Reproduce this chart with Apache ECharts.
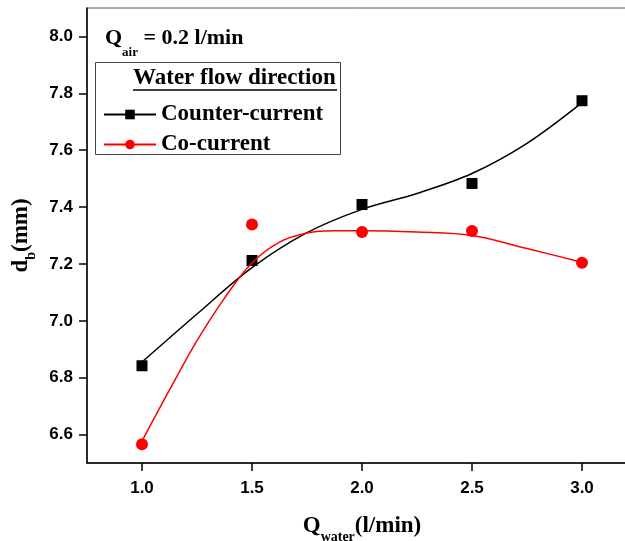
<!DOCTYPE html>
<html>
<head>
  <meta charset="utf-8">
  <title>Bubble diameter vs water flow</title>
  <script src="https://cdn.jsdelivr.net/npm/echarts@6/dist/echarts.min.js"></script>
  <style>
    html, body { margin: 0; padding: 0; background: #fff; }
  </style>
</head>
<body>
  <div id="main" style="width: 625px;height:541px;"></div>
  <script type="text/javascript">
    // measured points
    var qWater = [1.0, 1.5, 2.0, 2.5, 3.0];
    var counterCurrent = [6.842, 7.212, 7.409, 7.483, 7.774];
    var coCurrent = [6.566, 7.339, 7.312, 7.316, 7.204];

    // fitted curves
    var counterFitX = [1.0, 1.25, 1.5, 1.75, 2.0, 2.25, 2.5, 2.75, 3.0];
    var counterFitY = [6.855, 7.024, 7.187, 7.31, 7.392, 7.448, 7.518, 7.624, 7.767];
    var coFitX = [1.0, 1.125, 1.25, 1.375, 1.5, 1.625, 1.75, 1.875, 2.0, 2.25, 2.5, 2.75, 3.0];
    var coFitY = [6.577, 6.757, 6.93, 7.08, 7.204, 7.277, 7.309, 7.317, 7.317, 7.312, 7.30, 7.254, 7.206];

    var xTicks = [1.0, 1.5, 2.0, 2.5, 3.0];
    var yTicks = [6.6, 6.8, 7.0, 7.2, 7.4, 7.6, 7.8, 8.0];

    function pairs(xs, ys) {
      return xs.map(function (x, i) { return [x, ys[i]]; });
    }

    var serif = '"Liberation Serif", "Times New Roman", serif';
    var sans = '"Liberation Sans", Arial, sans-serif';

    var nameRich = {
      q: { fontFamily: serif, fontWeight: 'bold', fontSize: 23, color: '#000' },
      s: { fontFamily: serif, fontWeight: 'bold', fontSize: 14, color: '#000', verticalAlign: 'bottom', padding: [0, 0, -6, 0] }
    };

    var myChart = echarts.init(document.getElementById('main'));
    myChart.setOption({
      animation: false,
      grid: {
        left: 87, top: 8, right: -12, bottom: 78,
        outerBoundsMode: 'none',
        show: true, borderColor: '#555', borderWidth: 1
      },
      xAxis: {
        type: 'value', min: 0.75, max: 3.25,
        name: '{q|Q}{s|water}{q|(l/min)}',
        nameLocation: 'middle', nameGap: 52,
        nameTextStyle: { rich: nameRich },
        axisLine: { lineStyle: { color: '#000', width: 1.5 } },
        axisTick: { customValues: xTicks, length: 8, lineStyle: { color: '#000', width: 1.5 } },
        axisLabel: {
          customValues: xTicks, margin: 17,
          fontFamily: sans, fontWeight: 'bold', fontSize: 17, color: '#000',
          formatter: function (v) { return v.toFixed(1); }
        },
        splitLine: { show: false }
      },
      yAxis: {
        type: 'value', min: 6.5, max: 8.1,
        name: '{q|d}{s|b}{q|(mm)}',
        nameLocation: 'middle', nameGap: 43, nameRotate: 90,
        nameTextStyle: { rich: nameRich },
        axisLine: { lineStyle: { color: '#000', width: 1.5 } },
        axisTick: { customValues: yTicks, length: 8, lineStyle: { color: '#000', width: 1.5 } },
        axisLabel: {
          customValues: yTicks, margin: 14,
          fontFamily: sans, fontWeight: 'bold', fontSize: 17, color: '#000',
          formatter: function (v) { return v.toFixed(1); }
        },
        splitLine: { show: false }
      },
      legend: {
        data: ['Counter-current', 'Co-current'],
        orient: 'vertical', left: 98, top: 98,
        itemWidth: 52, itemHeight: 12, itemGap: 7,
        textStyle: { fontFamily: serif, fontWeight: 'bold', fontSize: 23, color: '#000' }
      },
      graphic: [
        { type: 'rect', shape: { x: 95.5, y: 62.5, width: 245, height: 92 },
          style: { fill: 'none', stroke: '#444', lineWidth: 1 }, z: 10 },
        { type: 'text', left: 133, top: 67,
          style: { text: 'Water flow direction', font: 'bold 23px ' + serif, fill: '#000' }, z: 10 },
        { type: 'line', shape: { x1: 133, y1: 90, x2: 337, y2: 90 },
          style: { stroke: '#000', lineWidth: 1.5 }, z: 10 },
        { type: 'text', left: 105, top: 27, z: 10,
          style: {
            text: '{q|Q}{s|air}{q| = 0.2 l/min}',
            rich: {
              q: { font: 'bold 22px ' + serif, fill: '#000' },
              s: { font: 'bold 13px ' + serif, fill: '#000', verticalAlign: 'bottom', padding: [0, 0, -10, 0] }
            }
          }
        }
      ],
      series: [
        {
          name: 'Counter-current', type: 'line', smooth: 0.35,
          data: pairs(counterFitX, counterFitY),
          symbol: 'rect', symbolSize: 10, showSymbol: false,
          itemStyle: { color: '#000' }, lineStyle: { color: '#000', width: 1.5 }
        },
        {
          name: 'Co-current', type: 'line', smooth: 0.35,
          data: pairs(coFitX, coFitY),
          symbol: 'circle', symbolSize: 12, showSymbol: false,
          itemStyle: { color: '#ff0000' }, lineStyle: { color: '#ff0000', width: 1.5 }
        },
        {
          name: 'Counter-current points', type: 'scatter',
          data: pairs(qWater, counterCurrent),
          symbol: 'rect', symbolSize: 11, itemStyle: { color: '#000', opacity: 1 }
        },
        {
          name: 'Co-current points', type: 'scatter',
          data: pairs(qWater, coCurrent),
          symbol: 'circle', symbolSize: 12, itemStyle: { color: '#ff0000', opacity: 1 }
        }
      ]
    });
  </script>
</body>
</html>
